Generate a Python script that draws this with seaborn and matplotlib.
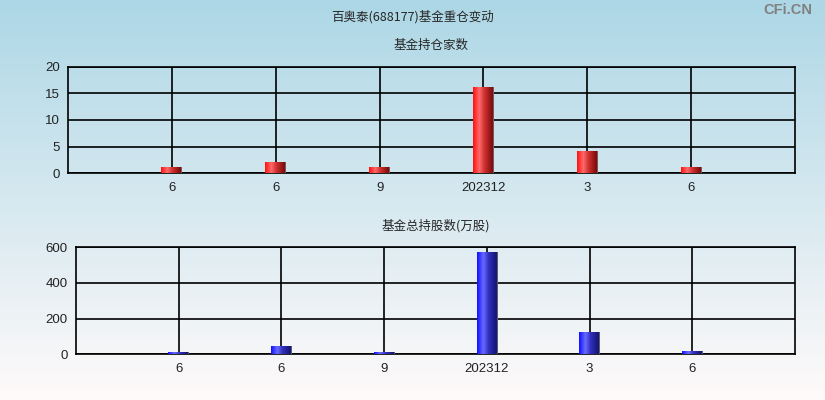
import numpy as np
import pandas as pd
import matplotlib
matplotlib.use('Agg')
import matplotlib.pyplot as plt
import seaborn as sns
from matplotlib.colors import LinearSegmentedColormap

# data
periods = ['202206', '202306', '202309', '202312', '202403', '202406']
tick_labels = ['6', '6', '9', '202312', '3', '6']
fund_count = [1, 2, 1, 16, 4, 1]
fund_shares = [8, 43, 8, 570, 121, 13]

sns.set_style('white')
plt.rcParams['font.family'] = ['Noto Sans CJK SC', 'DejaVu Sans']
num_font = ['Liberation Sans', 'DejaVu Sans']

fig = plt.figure(figsize=(8.25, 4), dpi=100)

# background gradient, light blue at the top to almost white at the bottom
bg = fig.add_axes([0, 0, 1, 1], zorder=-10)
top_c = np.array([173, 215, 230]) / 255
bot_c = np.array([255, 250, 250]) / 255
t = np.linspace(0, 1, 256)[:, None]
grad = top_c * (1 - t) + bot_c * t
bg.imshow(grad[:, None, :], aspect='auto', extent=[0, 1, 0, 1])
bg.axis('off')

red_cmap = LinearSegmentedColormap.from_list(
    'red', [(0, '#ff1010'), (0.3, '#ff6a6a'), (0.55, '#d03030'), (0.95, '#7a0a0a'), (1, '#808080')])
blue_cmap = LinearSegmentedColormap.from_list(
    'blue', [(0, '#1010ff'), (0.3, '#6a6aff'), (0.55, '#3030c0'), (0.95, '#14146e'), (1, '#808080')])


def draw_panel(rect, values, ymax, yticks, cmap, title):
    ax = fig.add_axes(rect)
    ax.set_facecolor('none')
    df = pd.DataFrame({'period': periods, 'value': values})
    sns.barplot(data=df, x='period', y='value', order=periods, width=0.2, ax=ax)
    # replace the flat bars with a horizontal gradient
    g = np.linspace(0, 1, 64)[None, :]
    for p in ax.patches:
        x0, w, h = p.get_x(), p.get_width(), p.get_height()
        ax.imshow(g, cmap=cmap, aspect='auto', extent=[x0, x0 + w, 0, h], zorder=3)
        p.set_visible(False)
    ax.set_xlim(-1, len(periods))
    ax.set_ylim(0, ymax)
    ax.set_yticks(yticks)
    ax.set_yticklabels([str(v) for v in yticks], family=num_font, fontsize=9.5, color='#222222')
    ax.set_xticks(range(len(periods)))
    ax.set_xticklabels(tick_labels, family=num_font, fontsize=9.5, color='#222222')
    ax.set_xticks([-1, len(periods)], minor=True)
    ax.tick_params(axis='x', which='major', length=0, pad=6)
    ax.tick_params(axis='x', which='minor', length=5, width=1.2, color='black')
    ax.tick_params(axis='y', length=5, width=1.2, color='black', pad=1)
    ax.grid(True, color='black', linewidth=1.2)
    ax.set_axisbelow(True)
    for s in ax.spines.values():
        s.set_color('black')
        s.set_linewidth(1.2)
    ax.set_xlabel('')
    ax.set_ylabel('')
    ax.set_title(title, fontsize=9, pad=13)
    return ax


draw_panel([68 / 825, 1 - 173.3 / 400, (795 - 68) / 825, 106.8 / 400],
           fund_count, 20, [0, 5, 10, 15, 20], red_cmap, '基金持仓家数')
draw_panel([76 / 825, 1 - 354.3 / 400, (795 - 76) / 825, 107 / 400],
           fund_shares, 600, [0, 200, 400, 600], blue_cmap, '基金总持股数(万股)')

fig.text(0.5, 1 - 17 / 400, '百奥泰(688177)基金重仓变动', ha='center', va='center', fontsize=9)
fig.text(0.985, 1 - 10 / 400, 'CFi.CN', ha='right', va='center', fontsize=10.5,
         color='#808080', fontweight='bold', family=num_font)

fig.savefig('out.png', dpi=100)
